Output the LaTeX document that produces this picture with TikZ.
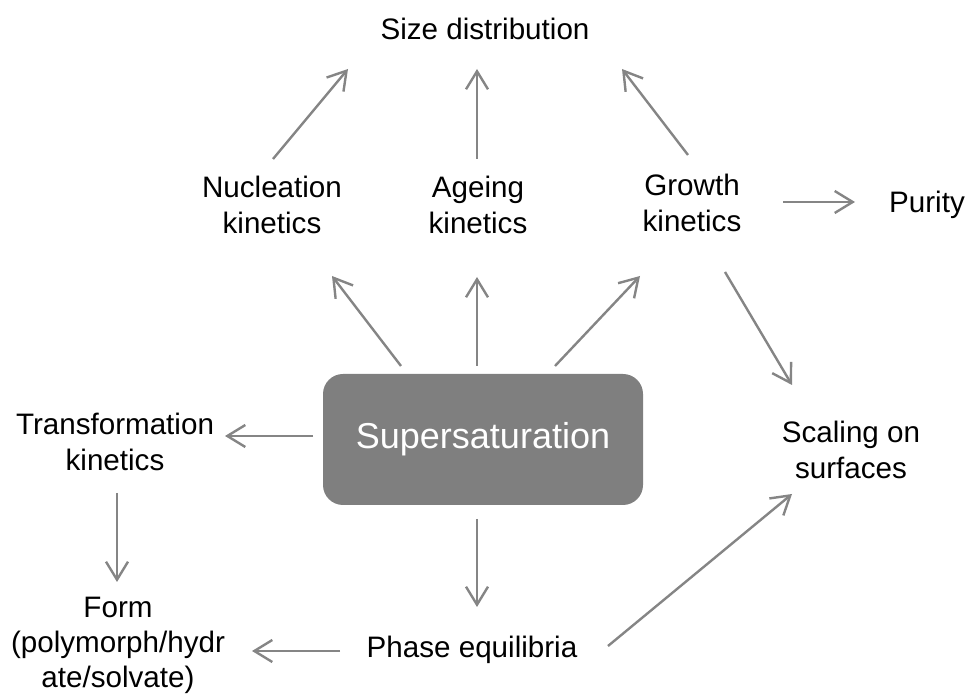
\documentclass[tikz,border=0pt]{standalone}
\usepackage{fontspec}
\setmainfont{Liberation Sans}
\usetikzlibrary{arrows.meta}
\definecolor{arrgray}{HTML}{858585}
\definecolor{hubgray}{HTML}{7F7F7F}
\tikzset{
  lbl/.style={inner sep=0pt,align=center,font=\fontsize{14.8}{18}\selectfont},
  hub/.style={fill=hubgray,rounded corners=10pt,minimum width=160pt,minimum height=65.5pt,
    text=white,font=\fontsize{18}{22}\selectfont},
  arr/.style={draw=arrgray,line width=1.2pt,-{Straight Barb[length=9pt,width=11pt]}}
}
\begin{document}
\begin{tikzpicture}[x=0.5pt,y=0.5pt]
\useasboundingbox (0,0) rectangle (968,695);
\node[lbl] (size) at (485,666.5) {Size distribution};
\node[lbl] (nuc) at (272,490.5) {Nucleation\\kinetics};
\node[lbl] (age) at (478,490.5) {Ageing\\kinetics};
\node[lbl] (grow) at (692,492) {Growth\\kinetics};
\node[lbl] (pur) at (927,490.5) {Purity};
\node[lbl] (scal) at (851,245) {Scaling on\\surfaces};
\node[hub] (super) at (483,255.5) {Supersaturation};
\node[lbl] (trans) at (115,253.5) {Transformation\\kinetics};
\node[lbl,font=\fontsize{14.8}{17.5}\selectfont] (form) at (118,50) {Form\\(polymorph/hydr\\ate/solvate)};
\node[lbl] (phase) at (472,45.5) {Phase equilibria};

\draw[arr] ([shift={(1,45.5)}]nuc.center) -- ([shift={(-137,-40.5)}]size.center);
\draw[arr] ([shift={(-1,45.5)}]age.center) -- ([shift={(-8,-40.5)}]size.center);
\draw[arr] ([shift={(-4,48)}]grow.center) -- ([shift={(137,-40.5)}]size.center);
\draw[arr] ([shift={(-82,73.5)}]super.center) -- ([shift={(60,-71.5)}]nuc.center);
\draw[arr] ([shift={(-6,73.5)}]super.center) -- ([shift={(-1,-72.5)}]age.center);
\draw[arr] ([shift={(72,73.5)}]super.center) -- ([shift={(-52,-73)}]grow.center);
\draw[arr] ([shift={(91,1)}]grow.center) -- ([shift={(-72,2.5)}]pur.center);
\draw[arr] ([shift={(33,-69)}]grow.center) -- ([shift={(-59,65)}]scal.center);
\draw[arr] ([shift={(-170,3.5)}]super.center) -- ([shift={(110,5.5)}]trans.center);
\draw[arr] ([shift={(2,-51.5)}]trans.center) -- ([shift={(-1,63)}]form.center);
\draw[arr] ([shift={(-6,-79.5)}]super.center) -- ([shift={(5,42.5)}]phase.center);
\draw[arr] ([shift={(-132,-1.5)}]phase.center) -- ([shift={(134,-6)}]form.center);
\draw[arr] ([shift={(136,3.5)}]phase.center) -- ([shift={(-59,-44)}]scal.center);
\end{tikzpicture}
\end{document}
